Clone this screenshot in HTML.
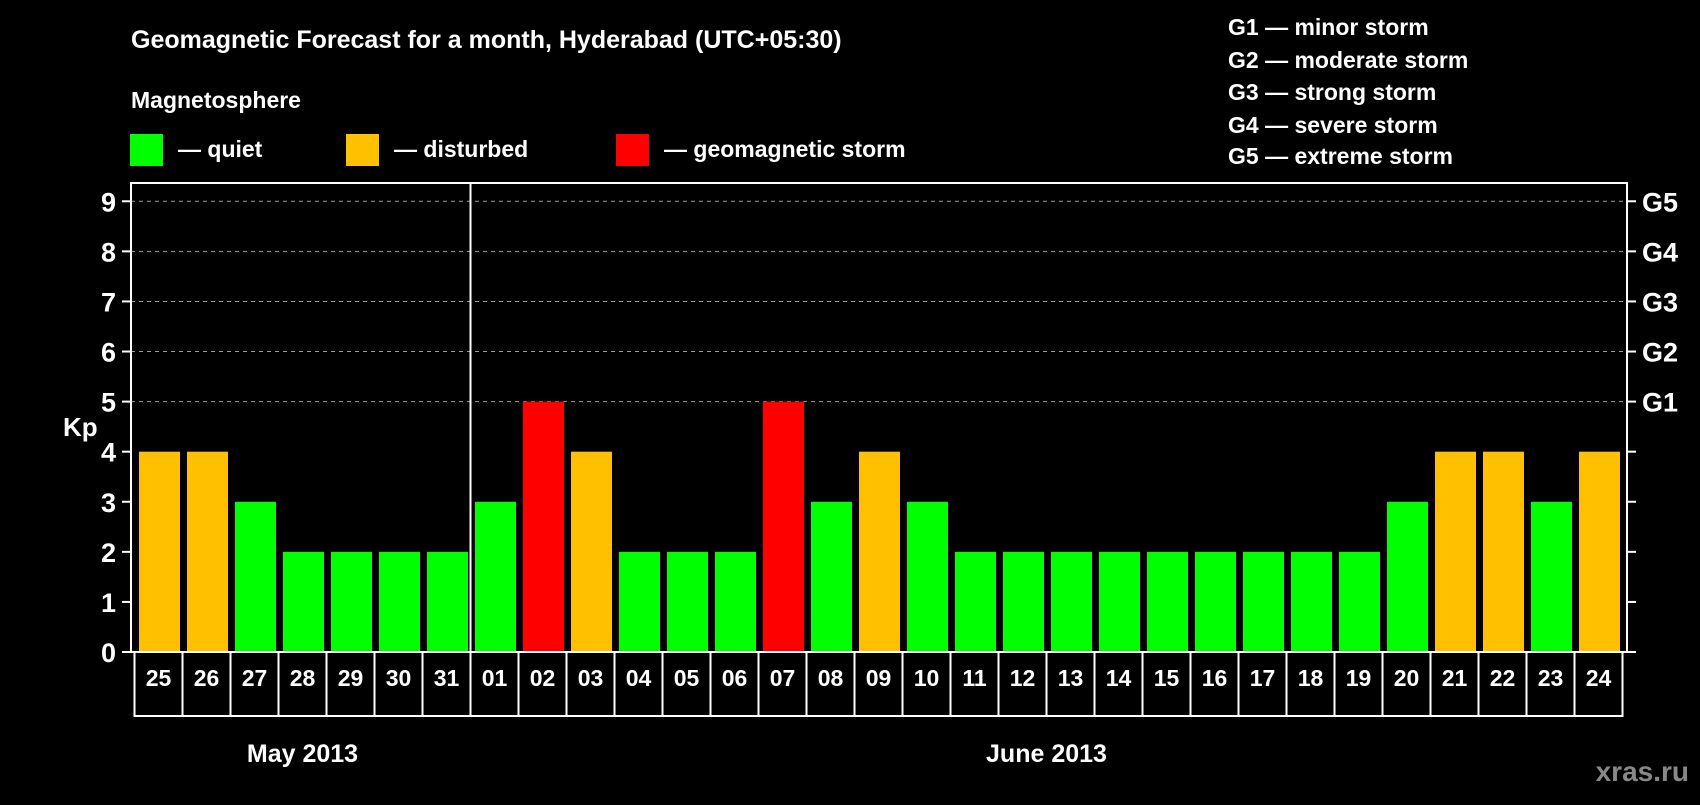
<!DOCTYPE html>
<html><head><meta charset="utf-8"><style>
body{margin:0;background:#000;width:1700px;height:800px;overflow:hidden}
svg text{font-family:"Liberation Sans",sans-serif;font-weight:bold;fill:#fff}
</style></head><body>
<svg id="c" width="1700" height="800" xmlns="http://www.w3.org/2000/svg">
<text x="131" y="48" font-size="25">Geomagnetic Forecast for a month, Hyderabad (UTC+05:30)</text>
<text x="131" y="108" font-size="23">Magnetosphere</text>
<rect x="130" y="134" width="33" height="32" fill="#00ff00"/>
<text x="178" y="157" font-size="23">— quiet</text>
<rect x="346" y="134" width="33" height="32" fill="#ffc000"/>
<text x="394" y="157" font-size="23">— disturbed</text>
<rect x="616" y="134" width="33" height="32" fill="#ff0000"/>
<text x="664" y="157" font-size="23">— geomagnetic storm</text>
<g font-size="23">
<text x="1228" y="35">G1 — minor storm</text>
<text x="1228" y="68">G2 — moderate storm</text>
<text x="1228" y="100">G3 — strong storm</text>
<text x="1228" y="133">G4 — severe storm</text>
<text x="1228" y="164">G5 — extreme storm</text>
</g>
<text x="63" y="436" font-size="26">Kp</text>
<text x="1689" y="781" font-size="28" text-anchor="end" style="fill:#888">xras.ru</text>
<g id="plot"></g>
</svg>
<script>
const days=["25","26","27","28","29","30","31","01","02","03","04","05","06","07","08","09","10","11","12","13","14","15","16","17","18","19","20","21","22","23","24"];
const kp=[4,4,3,2,2,2,2,3,5,4,2,2,2,5,3,4,3,2,2,2,2,2,2,2,2,2,3,4,4,3,4];
const yTicks=["0","1","2","3","4","5","6","7","8","9"];
const gLabels=["G1","G2","G3","G4","G5"];
const months=["May 2013","June 2013"];
const NS="http://www.w3.org/2000/svg";
const g=document.getElementById('plot');
const L=131,R=1627,T=183,B=652,y0=652,unit=50.08,cellX0=134.5,cellW=48.0,boxB=716;
const y=v=>y0-v*unit;
const cx=i=>cellX0+i*cellW;
function mk(t,a){const e=document.createElementNS(NS,t);for(const k in a)e.setAttribute(k,a[k]);g.appendChild(e);return e;}
// grid
for(let v=5;v<=9;v++){
 const e=mk('line',{x1:L,x2:R,y1:y(v),y2:y(v),stroke:'#999','stroke-dasharray':'4,4','stroke-width':1});
 
 
}
// bars
kp.forEach((v,i)=>{
 const col=v>=5?'#ff0000':(v>=4?'#ffc000':'#00ff00');
 const e=mk('rect',{x:cx(i)+4.5,y:y(v),width:41,height:B-y(v)-1,fill:col});
 
 
 const c=mk('rect',{x:cx(i),y:B,width:cellW,height:boxB-B,fill:'none',stroke:'#fff','stroke-width':2});
 
 
 const t=mk('text',{x:cx(i)+cellW/2,y:B+34,'font-size':23,'text-anchor':'middle'});
 t.textContent=days[i];
 
 
});
// frame
const fr=mk('rect',{x:L,y:T,width:R-L,height:B-T,fill:'none',stroke:'#fff','stroke-width':2});


const sepIdx=days.indexOf("01");
const sp=mk('line',{x1:cx(sepIdx),x2:cx(sepIdx),y1:T,y2:boxB,stroke:'#fff','stroke-width':2});


// y ticks
yTicks.forEach((s,i)=>{
 const v=+s;
 const tk=mk('line',{x1:L-9,x2:L,y1:y(v),y2:y(v),stroke:'#fff','stroke-width':2});
 
 
 const t=mk('text',{x:L-15,y:y(v)+10,'font-size':27,'text-anchor':'end'});
 t.textContent=s;
 
 
 const rt=mk('line',{x1:R,x2:R+9,y1:y(v),y2:y(v),stroke:'#fff','stroke-width':2});
 
 
});
gLabels.forEach((s,i)=>{
 const t=mk('text',{x:R+15,y:y(5+i)+10,'font-size':27});
 t.textContent=s;
 
 
});
const m1=mk('text',{x:(cx(0)+cx(sepIdx))/2,y:762,'font-size':25,'text-anchor':'middle'});
m1.textContent=months[0];


const m2=mk('text',{x:(cx(sepIdx)+cx(days.length))/2,y:762,'font-size':25,'text-anchor':'middle'});
m2.textContent=months[1];


</script>
</body></html>
